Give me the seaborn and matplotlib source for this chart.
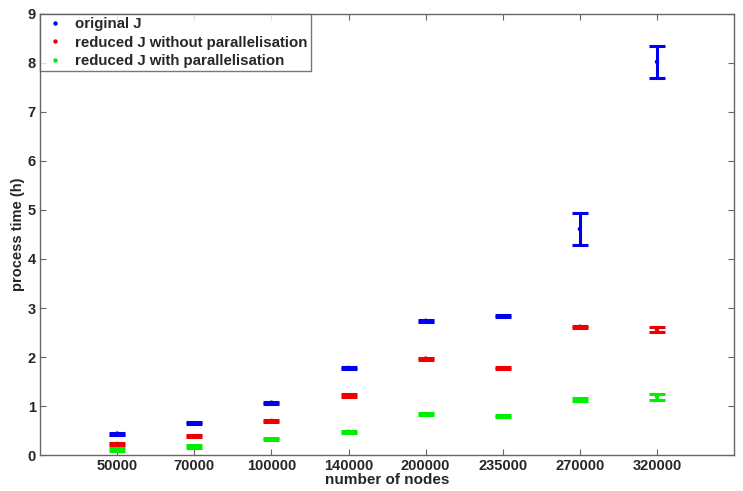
import matplotlib
matplotlib.use("Agg")
import matplotlib.pyplot as plt
import numpy as np
import pandas as pd
import seaborn as sns

nodes = ["50000", "70000", "100000", "140000", "200000", "235000", "270000", "320000"]

original = [0.44, 0.65, 1.07, 1.78, 2.74, 2.83, 4.61, 8.02]
original_err = [0.02, 0.02, 0.02, 0.02, 0.02, 0.02, 0.32, 0.32]

reduced_seq = [0.23, 0.39, 0.70, 1.22, 1.97, 1.77, 2.62, 2.56]
reduced_seq_err = [0.02, 0.02, 0.02, 0.03, 0.02, 0.02, 0.02, 0.05]

reduced_par = [0.11, 0.18, 0.32, 0.48, 0.84, 0.79, 1.13, 1.19]
reduced_par_err = [0.03, 0.03, 0.02, 0.02, 0.02, 0.02, 0.03, 0.06]

series = [
    ("original J", original, original_err, "#0000ee"),
    ("reduced J without parallelisation", reduced_seq, reduced_seq_err, "#ee0000"),
    ("reduced J with parallelisation", reduced_par, reduced_par_err, "#00ee00"),
]

sns.set_style("white")
plt.rcParams["font.family"] = ["Liberation Sans", "DejaVu Sans"]

fig = plt.figure(figsize=(7.43, 4.91), dpi=100)
ax = fig.add_axes([0.054, 0.073, 0.934, 0.899])

x = np.arange(1, len(nodes) + 1)
rows = []
for label, vals, errs, color in series:
    ax.errorbar(x, vals, yerr=errs, fmt="none", ecolor=color, elinewidth=2.2,
                capsize=5.5, capthick=2.2)
    for xi, v in zip(x, vals):
        rows.append({"x": xi, "y": v, "series": label})
df = pd.DataFrame(rows)

sns.scatterplot(data=df, x="x", y="y", hue="series",
                palette={s[0]: s[3] for s in series}, s=10, linewidth=0,
                ax=ax, zorder=3)

ax.set_xlim(0, 9)
ax.set_ylim(0, 9)
ax.set_xticks(x)
ax.set_xticklabels(nodes, fontweight="bold", fontsize=10.5)
ax.set_yticks(range(0, 10))
ax.set_yticklabels([str(i) for i in range(0, 10)], fontweight="bold", fontsize=10.5)
ax.tick_params(direction="in", length=4, color="#666666", top=True, right=True,
               bottom=True, left=True, pad=3)
for sp in ax.spines.values():
    sp.set_color("#666666")
    sp.set_linewidth(1.0)
ax.set_xlabel("number of nodes", fontweight="bold", fontsize=11, labelpad=0)
ax.set_ylabel("process time (h)", fontweight="bold", fontsize=10.5, labelpad=2)

leg = ax.legend(loc="upper left", fontsize=10.8, frameon=True, fancybox=False,
                borderaxespad=0, handletextpad=0.5, handlelength=1.6,
                labelspacing=0.3, borderpad=0.22, markerscale=1.0)
for t in leg.get_texts():
    t.set_fontweight("bold")
leg.get_frame().set_edgecolor("#555555")
leg.get_frame().set_linewidth(1.0)

fig.savefig("out.png", dpi=100)
